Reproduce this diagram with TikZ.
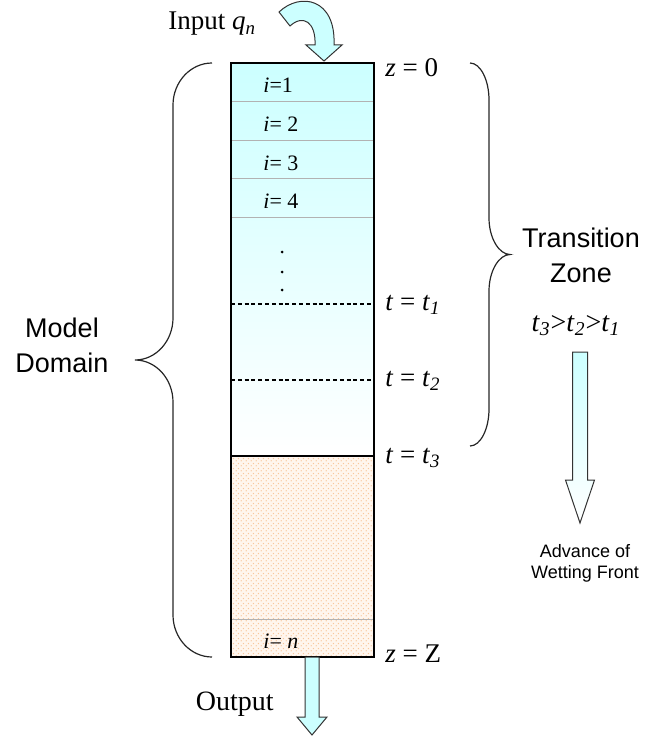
\documentclass[tikz,border=0pt]{standalone}
\usepackage{fontspec}
\setmainfont{Liberation Serif}
\setsansfont{Liberation Sans}
\usepackage{tikz}
\usetikzlibrary{positioning, patterns, calc}
\definecolor{wetcyan}{HTML}{CCFFFF}
\definecolor{drysand}{HTML}{FFF6EE}
\definecolor{sanddot}{HTML}{F9C79C}
\pgfdeclarepatternformonly{sanddots}{\pgfqpoint{0pt}{0pt}}{\pgfqpoint{2.4pt}{2.4pt}}{\pgfqpoint{2.4pt}{2.4pt}}{%
  \pgfpathcircle{\pgfqpoint{0.6pt}{0.6pt}}{0.38pt}
  \pgfpathcircle{\pgfqpoint{1.8pt}{1.8pt}}{0.38pt}
  \pgfusepath{fill}}

\tikzset{
  celllabel/.style={anchor=base west, inner sep=0pt, font=\fontsize{11}{13}\selectfont},
  depthlabel/.style={anchor=base west, inner sep=0pt, font=\fontsize{13.5}{16}\selectfont},
  zonelabel/.style={align=center, inner sep=0pt, font=\sffamily\fontsize{13.5}{17.5}\selectfont},
  cellline/.style={draw=gray!60, line width=0.5pt},
  frontline/.style={draw=black, line width=0.6pt, dash pattern=on 2pt off 1.4pt},
  bracket/.style={draw=black!85, line width=0.6pt},
  blockarrow/.style={draw=black!80, line width=0.5pt, line join=miter}
}
\newcommand{\itsub}[2]{\textit{#1}\textsubscript{\textit{#2}}}

\begin{document}
\begin{tikzpicture}[x=0.5pt, y=-0.5pt]
  \useasboundingbox (0,0) rectangle (646,738);

  % soil column
  \coordinate (col-nw) at (231,63);
  \coordinate (col-se) at (374,657);
  \coordinate (front-w) at (231,456);
  \coordinate (front-e) at (374,456);
  \shade[top color=wetcyan, bottom color=white] (col-nw) rectangle (front-e);
  \fill[drysand] (front-w) rectangle (col-se);
  \fill[pattern=sanddots, pattern color=sanddot] (front-w) rectangle (col-se);
  \foreach \y in {101.5,140,178.5,217,619}
    \draw[cellline] (231,\y) -- (374,\y);
  \draw[frontline] (231,304) -- (374,304);
  \draw[frontline] (231,380) -- (374,380);
  \draw[line width=0.7pt] (front-w) -- (front-e);
  \draw[line width=0.7pt] (col-nw) rectangle (col-se);

  % cell numbers
  \node[celllabel] (cell1) at (263,93) {\textit{i}=1};
  \node[celllabel] (cell2) at (263,131.5) {\textit{i}= 2};
  \node[celllabel] (cell3) at (263,170) {\textit{i}= 3};
  \node[celllabel] (cell4) at (263,208.5) {\textit{i}= 4};
  \node[celllabel] (celln) at (263,648) {\textit{i}= \textit{n}};
  \foreach \y in {252,272,290}
    \fill (282,\y) circle (0.75pt);

  % depth and time labels
  \node[depthlabel] (ztop) at (385,76) {\textit{z} = 0};
  \node[depthlabel] (time1) at (385,310) {\textit{t} = \itsub{t}{1}};
  \node[depthlabel] (time2) at (385,386) {\textit{t} = \itsub{t}{2}};
  \node[depthlabel] (time3) at (385,463) {\textit{t} = \itsub{t}{3}};
  \node[depthlabel] (zbot) at (385,662) {\textit{z} = Z};

  % input
  \node[depthlabel] (input) at (168,30) {Input \itsub{q}{n}};
  \filldraw[blockarrow, fill=wetcyan]
    (279,12) .. controls (300,-8) and (336,-2) .. (334,45)
    -- (342,45) -- (324,61) -- (306,45) -- (315,45)
    .. controls (316,22) and (303,14) .. (290,26) -- cycle;

  % output
  \filldraw[blockarrow, fill=wetcyan]
    (305,657) -- (305,717) -- (297,717) -- (312,735)
    -- (327,717) -- (319,717) -- (319,657) -- cycle;
  \node[depthlabel, anchor=base east, font=\fontsize{14}{16}\selectfont] (output) at (274,710) {Output};

  % model domain brace
  \draw[bracket] (212,63) .. controls (190.5,63) and (173,82) .. (173,105)
    -- (173,318) .. controls (173,341) and (156,360) .. (135,360)
    .. controls (156,360) and (173,379) .. (173,402)
    -- (173,615) .. controls (173,638) and (190.5,657) .. (212,657);
  \node[zonelabel] (domain) at (62,345) {Model\\Domain};

  % transition zone brace
  \draw[bracket] (470,63) .. controls (480.5,63) and (489,80) .. (489,100)
    -- (489,218) .. controls (489,238) and (499,254.5) .. (510,254.5)
    .. controls (499,254.5) and (489,271) .. (489,291)
    -- (489,409) .. controls (489,429) and (480.5,446) .. (470,446);
  \node[zonelabel] (transition) at (581,255) {Transition\\Zone};

  % advance of wetting front
  \node[anchor=base, inner sep=0pt, font=\fontsize{14}{16}\selectfont] (order) at (576,331)
    {\itsub{t}{3}>\itsub{t}{2}>\itsub{t}{1}};
  \shadedraw[blockarrow, top color=wetcyan, bottom color=white]
    (572.5,352) -- (572.5,480) -- (565.5,480) -- (580,523)
    -- (594.5,480) -- (587.5,480) -- (587.5,352) -- cycle;
  \node[zonelabel, font=\sffamily\fontsize{9}{10.5}\selectfont] (advance) at (585,563)
    {Advance of\\Wetting Front};
\end{tikzpicture}
\end{document}
